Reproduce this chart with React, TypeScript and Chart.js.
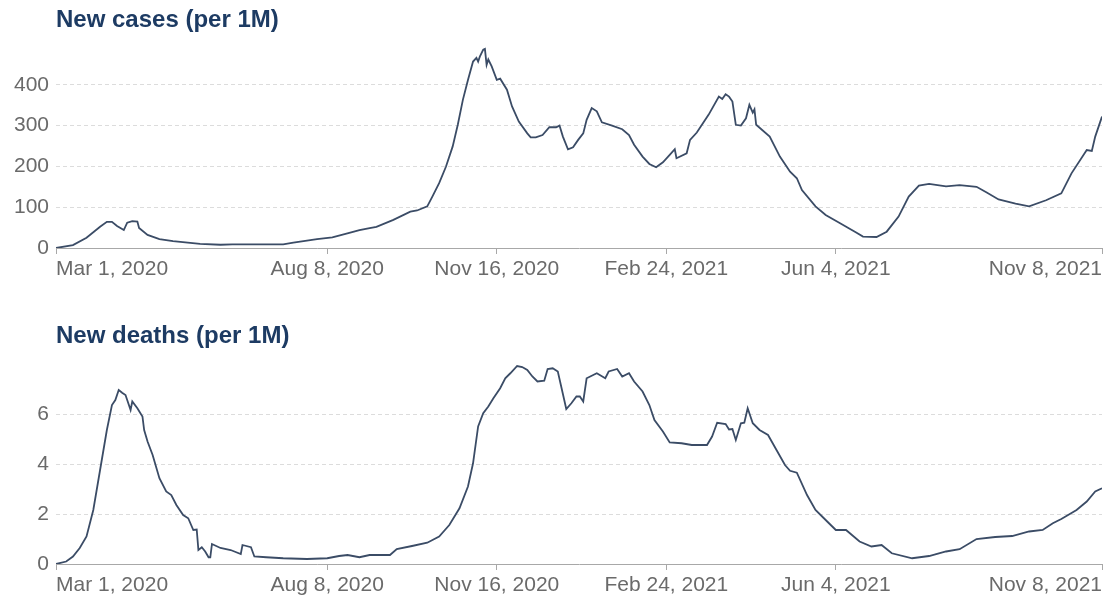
import React, { useEffect, useRef } from "react";
import { Chart, registerables } from "chart.js";

Chart.register(...registerables);

// Day offsets are days since Mar 1, 2020
const xTickDays = [0, 160, 260, 360, 460, 617];
const xTickLabels = ["Mar 1, 2020", "Aug 8, 2020", "Nov 16, 2020", "Feb 24, 2021", "Jun 4, 2021", "Nov 8, 2021"];

const caseDays = [
  0, 10, 18, 26, 30, 33, 36, 40, 42, 45, 48, 49, 54, 61, 69, 85, 97, 104, 120, 134, 140, 154, 163, 173, 179, 185, 189,
  199, 209, 213, 219, 222, 226, 230, 234, 237, 240, 243, 246, 248, 249, 250, 252, 253, 254, 255, 257, 260, 262, 266,
  269, 273, 278, 280, 283, 287, 291, 295, 297, 299, 302, 305, 308, 311, 313, 316, 319, 322, 328, 334, 338, 341, 346,
  350, 354, 358, 362, 365, 366, 372, 374, 378, 385, 391, 393, 395, 397, 399, 401, 404, 407, 409, 411, 412, 413, 421,
  427, 433, 437, 440, 448, 454, 462, 472, 476, 484, 490, 497, 503, 509, 515, 525, 533, 543, 549, 556, 566, 574, 584,
  593, 599, 608, 611, 613, 617,
];
const caseValues = [
  0, 7, 25, 52, 64, 64, 54, 44, 62, 66, 65, 49, 32, 22, 17, 10, 8, 9, 9, 9, 13, 22, 26, 37, 44, 49, 52,
  69, 89, 92, 102, 126, 159, 199, 249, 302, 363, 412, 457, 466, 457, 469, 486, 488, 449, 462, 445, 412, 415, 388,
  347, 310, 281, 271, 271, 277, 296, 296, 300, 273, 242, 247, 265, 281, 314, 343, 335, 308, 300, 291, 277, 253, 224,
  206, 198, 210, 228, 242, 220, 232, 265, 283, 327, 371, 365, 377, 371, 359, 302, 300, 318, 351, 332, 340, 302, 273,
  224, 187, 171, 142, 102, 81, 62, 38, 28, 27, 40, 77, 126, 153, 157, 151, 154, 150, 136, 119, 109, 102, 117,
  134, 183, 240, 238, 273, 322,
];
const caseTicks = [0, 100, 200, 300, 400];

const deathDays = [
  0, 6, 10, 14, 18, 22, 26, 30, 33, 35, 37, 39, 41, 42, 44, 45, 48, 51, 52, 54, 57, 61, 65, 68, 71, 75, 78, 81, 83,
  84, 86, 88, 90, 91, 92, 97, 103, 109, 110, 115, 117, 124, 134, 148, 160, 167, 172, 179, 185, 197, 201, 210, 219,
  226, 232, 238, 243, 246, 249, 252, 255, 258, 262, 265, 268, 272, 275, 278, 281, 284, 288, 290, 293, 296, 298, 301,
  304, 307, 309, 311, 313, 319, 324, 326, 331, 334, 338, 341, 346, 350, 353, 358, 362, 369, 375, 384, 387, 390, 395,
  397, 399, 401, 404, 406, 408, 411, 415, 420, 425, 430, 433, 437, 443, 448, 454, 460, 466, 474, 481, 487, 493, 505,
  515, 525, 533, 543, 554, 564, 574, 582, 588, 593, 602, 608, 613, 617,
];
const deathValues = [
  0, 0.1, 0.3, 0.64, 1.1, 2.16, 3.76, 5.36, 6.36, 6.56, 6.96, 6.85, 6.76, 6.56, 6.16, 6.5, 6.23, 5.9, 5.36, 4.9, 4.36,
  3.43, 2.9, 2.76, 2.36, 1.96, 1.83, 1.36, 1.38, 0.56, 0.67, 0.5, 0.27, 0.27, 0.8, 0.64, 0.56, 0.4, 0.76, 0.67, 0.3,
  0.27, 0.23, 0.2, 0.23, 0.32, 0.36, 0.27, 0.36, 0.36, 0.6, 0.72, 0.85, 1.1, 1.56, 2.23, 3.1, 4.03, 5.5, 6.03, 6.3,
  6.63, 7.03, 7.43, 7.63, 7.92, 7.88, 7.76, 7.5, 7.3, 7.33, 7.8, 7.83, 7.7, 7.1, 6.2, 6.43, 6.7, 6.7, 6.5, 7.43,
  7.63, 7.43, 7.7, 7.8, 7.5, 7.63, 7.3, 6.9, 6.36, 5.76, 5.3, 4.86, 4.83, 4.76, 4.76, 5.1, 5.65, 5.6, 5.38, 5.4,
  4.96, 5.63, 5.65, 6.23, 5.63, 5.36, 5.16, 4.56, 3.96, 3.73, 3.65, 2.76, 2.16, 1.76, 1.36, 1.36, 0.9, 0.7, 0.76,
  0.43, 0.23, 0.32, 0.5, 0.59, 1.0, 1.08, 1.12, 1.3, 1.36, 1.63, 1.8, 2.16, 2.5, 2.9, 3.03,
];
const deathTicks = [0, 2, 4, 6];

const FONT = "'Liberation Sans', Arial, Helvetica, sans-serif";
const LINE_COLOR = "#3b4c66";
const TITLE_COLOR = "#1d3b63";

type PanelProps = {
  title: string;
  days: number[];
  values: number[];
  yTicks: number[];
  yMax: number;
  top: number;
  height: number;
  padTop: number;
  padBottom: number;
  titleTop: number;
};

function Panel({ title, days, values, yTicks, yMax, top, height, padTop, padBottom, titleTop }: PanelProps) {
  const ref = useRef<HTMLCanvasElement | null>(null);
  useEffect(() => {
    if (!ref.current) return;
    const chart = new Chart(ref.current, {
      type: "line",
      data: {
        datasets: [
          {
            data: days.map((d, i) => ({ x: d, y: values[i] })),
            borderColor: LINE_COLOR,
            borderWidth: 1.8,
            pointRadius: 0,
            tension: 0,
            fill: false,
          },
        ],
      },
      options: {
        animation: false,
        responsive: false,
        devicePixelRatio: 1,
        layout: { padding: { top: padTop, bottom: padBottom, left: 0, right: 2 } },
        plugins: { legend: { display: false }, tooltip: { enabled: false }, title: { display: false } },
        scales: {
          x: {
            type: "linear",
            min: 0,
            max: 617,
            afterBuildTicks: (axis: any) => {
              axis.ticks = xTickDays.map((v) => ({ value: v }));
            },
            afterFit: (axis: any) => {
              axis.height = 34;
            },
            ticks: {
              align: "inner",
              padding: 3,
              color: "#6a6a6a",
              font: { family: FONT, size: 21 },
              maxRotation: 0,
              autoSkip: false,
              callback: (v: any) => {
                const i = xTickDays.indexOf(Number(v));
                return i >= 0 ? xTickLabels[i] : "";
              },
            },
            grid: {
              display: true,
              drawOnChartArea: false,
              drawTicks: true,
              tickLength: 6,
              tickColor: "#a8a8a8",
              color: "#a8a8a8",
            },
            border: { display: true, color: "#a8a8a8", width: 1 },
          },
          y: {
            type: "linear",
            min: 0,
            max: yMax,
            afterBuildTicks: (axis: any) => {
              axis.ticks = yTicks.map((v) => ({ value: v }));
            },
            afterFit: (axis: any) => {
              axis.width = 56;
            },
            ticks: {
              padding: 7,
              color: "#6a6a6a",
              font: { family: FONT, size: 21 },
              callback: (v: any) => String(v),
            },
            grid: {
              drawTicks: false,
              lineWidth: 1,
              color: (ctx: any) => (ctx.tick && ctx.tick.value === 0 ? "rgba(0,0,0,0)" : "#dcdcdc"),
            },
            border: { display: false, dash: [4, 3] },
          },
        },
      },
    } as any);
    return () => chart.destroy();
  }, []);

  return (
    <>
      <canvas
        ref={ref}
        width={1105}
        height={height}
        style={{ position: "absolute", left: 0, top, width: 1105, height }}
      />
      <div
        style={{
          position: "absolute",
          left: 56,
          top: titleTop,
          fontFamily: FONT,
          fontWeight: 700,
          fontSize: 24,
          lineHeight: 1,
          color: TITLE_COLOR,
          whiteSpace: "nowrap",
        }}
      >
        {title}
      </div>
    </>
  );
}

export default function App() {
  return (
    <div style={{ position: "absolute", left: 0, top: 0, width: 1105, height: 600, background: "#fff", overflow: "hidden" }}>
      <Panel
        title="New cases (per 1M)"
        days={caseDays}
        values={caseValues}
        yTicks={caseTicks}
        yMax={500}
        top={0}
        height={290}
        padTop={44}
        padBottom={8}
        titleTop={7}
      />
      <Panel
        title="New deaths (per 1M)"
        days={deathDays}
        values={deathValues}
        yTicks={deathTicks}
        yMax={8}
        top={300}
        height={300}
        padTop={64}
        padBottom={2}
        titleTop={323}
      />
    </div>
  );
}
